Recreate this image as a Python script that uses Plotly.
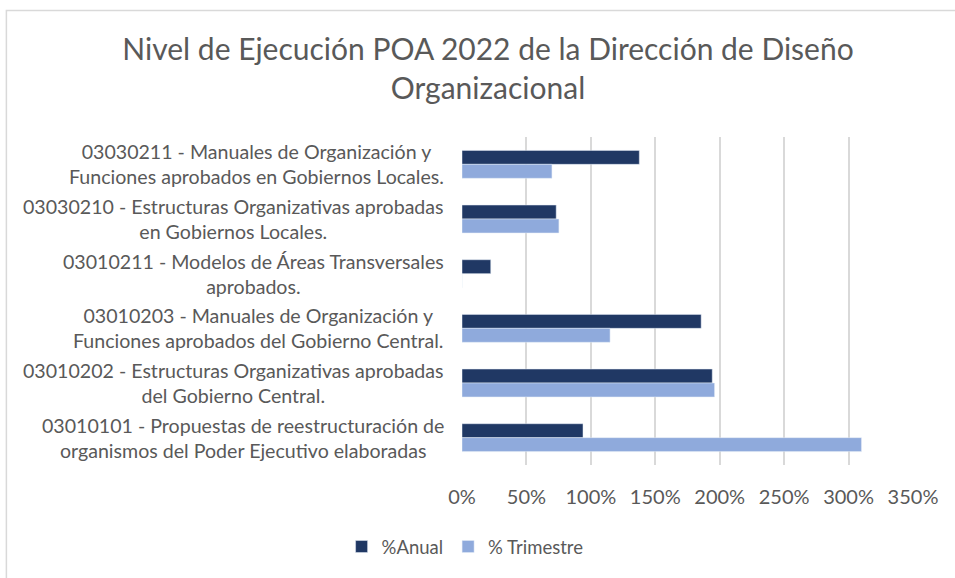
#导入所需模块
import plotly.graph_objs as go

#数据 (Nivel de Ejecución POA 2022)
categorias=["03030211 - Manuales de Organización y<br>Funciones aprobados en Gobiernos Locales.",
            "03030210 - Estructuras Organizativas aprobadas<br>en Gobiernos Locales.",
            "03010211 - Modelos de Áreas Transversales<br>aprobados.",
            "03010203 - Manuales de Organización y<br>Funciones aprobados del Gobierno Central.",
            "03010202 - Estructuras Organizativas aprobadas<br>del Gobierno Central.",
            "03010101 - Propuestas de reestructuración de<br>organismos del Poder Ejecutivo elaboradas"]
anual=[137.6,73.1,22.3,185.6,194.2,93.9]
trimestre=[69.8,75.2,0,114.9,196.0,310.0]
ticks_x=[0,50,100,150,200,250,300,350]
ticks_txt=["0%","50%","100%","150%","200%","250%","300%","350%"]

fuente="Lato"
gris="#595959"

#Trace
trace1=go.Bar(x=anual,y=categorias,orientation="h",name="%Anual",marker=dict(color="#203864"))
trace2=go.Bar(x=trimestre,y=categorias,orientation="h",name="% Trimestre",marker=dict(color="#8FAADC"))

#Layout
layout=go.Layout(
    width=955,height=578,
    paper_bgcolor="white",plot_bgcolor="white",
    font=dict(family=fuente,color=gris,size=18),
    title=dict(text="Nivel de Ejecución POA 2022 de la Dirección de Diseño<br>Organizacional",
               x=0.511,xref="container",xanchor="center",y=1-60/578,yref="container",yanchor="top",
               font=dict(family=fuente,size=30,color=gris)),
    margin=dict(l=462,r=42,t=137,b=113),
    barmode="group",bargap=0.49,bargroupgap=0,
    showlegend=True,
    legend=dict(orientation="h",x=0.487,xref="container",xanchor="center",
                y=1-547/578,yref="container",yanchor="middle",
                font=dict(family=fuente,size=18.5,color=gris),traceorder="normal"),
)
fig=go.Figure(data=[trace1,trace2],layout=layout)

#ejes
fig.update_xaxes(range=[0,350],tickmode="array",tickvals=ticks_x,ticktext=ticks_txt,showgrid=True,gridcolor="#D9D9D9",gridwidth=1.5,
                 zeroline=False,showline=False,ticks="",ticklabelstandoff=18,tickfont=dict(size=20,color=gris))
fig.update_yaxes(autorange="reversed",showticklabels=False,showgrid=False,zeroline=False,showline=False)

#etiquetas de categorías centradas
for c in categorias:
    fig.add_annotation(text=c,x=0,xref="paper",xanchor="right",xshift=-16,y=c,yref="y",yanchor="middle",
                       align="center",showarrow=False,font=dict(family=fuente,size=19.6,color=gris))

#borde del gráfico
fig.add_shape(type="rect",xref="paper",yref="paper",x0=(7-462)/450.4,x1=1.2,y0=-0.5,y1=1+(137-10.5)/328,
              line=dict(color="#D9D9D9",width=1.5),fillcolor="rgba(0,0,0,0)",layer="below")

fig.write_html("out.html",config={"displayModeBar":False},post_script="document.body.style.margin='0px';")
